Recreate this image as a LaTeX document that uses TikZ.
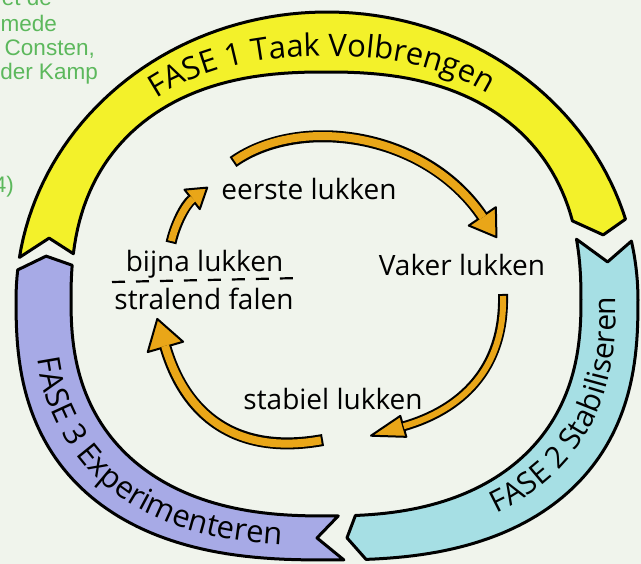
\documentclass[tikz,border=0pt]{standalone}
\usepackage{fontspec}
\setmainfont{Open Sans}
\newfontfamily\greenfont{Liberation Sans}
\usetikzlibrary{arrows.meta,decorations.text}
\definecolor{bgc}{RGB}{240,244,236}
\definecolor{yellowc}{RGB}{243,241,42}
\definecolor{cyanc}{RGB}{166,223,228}
\definecolor{purplec}{RGB}{167,170,230}
\definecolor{orangec}{RGB}{233,166,24}
\definecolor{greenc}{RGB}{92,184,92}
\newcommand\arcfontA{\fontsize{31}{36}\selectfont}
\newcommand\arcfontB{\fontsize{30}{36}\selectfont}
\newcommand\arcfontC{\fontsize{31}{36}\selectfont}
\begin{document}
\begin{tikzpicture}[x=1pt,y=1pt,
  declare function={
    spw(\cc,\pp)=\cc*pow(abs(\cc)+0.00001,\pp-1);
    oxu(\ang)=327+311*cos(\ang);
    oxl(\ang)=327+311*spw(cos(\ang),0.8);
    oyu(\ang)=264+288*sin(\ang);
    oyl(\ang)=264+260*spw(sin(\ang),0.8);
    ixx(\ang)=326+255*spw(cos(\ang),0.833);
    iyu(\ang)=264+228*spw(sin(\ang),0.833);
    iyl(\ang)=264+216*spw(sin(\ang),0.833);
    mxu(\ang)=326.5+283*spw(cos(\ang),0.909);
    mxl(\ang)=326.5+283*spw(cos(\ang),0.816);
    myu(\ang)=264+258*spw(sin(\ang),0.909);
    myl(\ang)=264+238*spw(sin(\ang),0.816);
  },
  band/.style={draw=black, line width=3pt, line join=round},
  lbl/.style={font=\fontsize{28}{32}\selectfont, inner sep=0pt, text=black},
  greentext/.style={font=\greenfont\fontsize{22.5}{26}\selectfont, text=greenc, inner sep=0pt},
  arrowbody/.style={draw=black, line width=#1},
  arrowcore/.style={draw=orangec, line width=#1},
  dashline/.style={draw=black, line width=2.2pt, dash pattern=on 13pt off 11pt}
]
\useasboundingbox (0,0) rectangle (641,564);
\fill[bgc] (0,0) rectangle (641,564);
\clip (0,0) rectangle (641,564);

% green side text
\node[greentext, anchor=base east] (g1) at (52,558) {et de};
\node[greentext, anchor=base east] (g2) at (57,532) {mede};
\node[greentext, anchor=base east] (g3) at (95,508) {Consten,};
\node[greentext, anchor=base east] (g4) at (98,484) {der Kamp};
\node[greentext, anchor=base east] (g5) at (14,371) {4)};

% FASE 1 band (yellow)
\filldraw[band, fill=yellowc]
  plot[domain=171.5:16.3, samples=80] ({oxu(\x)},{oyu(\x)})
  -- ({mxu(12.7)},{myu(12.7)})
  -- plot[domain=16.3:171.5, samples=80] ({ixx(\x)},{iyu(\x)})
  -- ({mxu(168)},{myu(168)}) -- cycle;

% FASE 2 band (cyan)
\filldraw[band, fill=cyanc]
  plot[domain=11.8:0, samples=10] ({oxu(\x)},{oyu(\x)})
  -- plot[domain=0:-85.7, samples=60] ({oxl(\x)},{oyl(\x)})
  -- ({mxl(-87.7)},{myl(-87.7)})
  -- plot[domain=-85.7:0, samples=60] ({ixx(\x)},{iyl(\x)})
  -- plot[domain=0:11.8, samples=10] ({ixx(\x)},{iyu(\x)})
  -- ({mxu(7)},{myu(7)}) -- cycle;

% FASE 3 band (purple)
\filldraw[band, fill=purplec]
  plot[domain=271.5:180, samples=60] ({oxl(\x)},{oyl(\x)})
  -- plot[domain=180:174, samples=5] ({oxu(\x)},{oyu(\x)})
  -- ({mxu(171.8)},{myu(171.8)})
  -- plot[domain=174:180, samples=5] ({ixx(\x)},{iyu(\x)})
  -- plot[domain=180:271.5, samples=60] ({ixx(\x)},{iyl(\x)})
  -- ({mxl(269.1)},{myl(269.1)}) -- cycle;

% band texts
\path[decorate, decoration={text along path, text align=center,
  text={|\arcfontA|FASE 1 Taak Volbrengen}}]
  plot[domain=170:12, samples=90] ({326.3+270*spw(cos(\x),0.88)},{264+244*spw(sin(\x),0.88)});
\path[decorate, decoration={text along path, text align=center,
  text={|\arcfontB|FASE 2 Stabiliseren}}]
  plot[domain=-86:30, samples=90] ({326.75+289*spw(cos(\x),0.81)},{264+242*spw(sin(\x),0.81)});
\path[decorate, decoration={text along path, text align=center,
  text={|\arcfontC|FASE 3 Experimenteren}}]
  plot[domain=167:283, samples=90] ({326.75+293*spw(cos(\x),0.81)},{264+246*spw(sin(\x),0.81)});

% inner labels
\node[lbl, anchor=base] (eerste) at (309,364) {eerste lukken};
\node[lbl, anchor=base] (vaker) at (462,288) {Vaker lukken};
\node[lbl, anchor=base] (bijna) at (204.5,292) {bijna lukken};
\node[lbl, anchor=base] (stralend) at (204,254) {stralend falen};
\node[lbl, anchor=base] (stabiel) at (333,154) {stabiel lukken};

\coordinate (dashL) at (112,282);
\coordinate (dashR) at (302,286);
\draw[dashline] (dashL) -- (dashR);

% orange cycle arrows
\coordinate (a1s) at (233,402); \coordinate (a1e) at (497,326);
\coordinate (a2s) at (503,270); \coordinate (a2e) at (370,128);
\coordinate (a3s) at (323,124); \coordinate (a3e) at (157,246);
\coordinate (a4s) at (171,321); \coordinate (a4e) at (208,377);

\draw[arrowbody=12pt, -{Triangle[length=28pt,width=36pt,fill=orangec,line width=2pt,round]}]
  (a1s) .. controls (300,449) and (425,432) .. (a1e);
\draw[arrowcore=8pt, shorten <=2pt, shorten >=25pt]
  (a1s) .. controls (300,449) and (425,432) .. (a1e);

\draw[arrowbody=10pt, -{Triangle[length=38pt,width=24pt,fill=orangec,line width=2pt,round]}]
  (a2s) .. controls (505,194) and (460,154) .. (a2e);
\draw[arrowcore=6pt, shorten <=2pt, shorten >=35pt]
  (a2s) .. controls (505,194) and (460,154) .. (a2e);

\draw[arrowbody=12pt, -{Triangle[length=32pt,width=40pt,fill=orangec,line width=2pt,round]}]
  (a3s) .. controls (235,108) and (185,150) .. (a3e);
\draw[arrowcore=8pt, shorten <=2pt, shorten >=29pt]
  (a3s) .. controls (235,108) and (185,150) .. (a3e);

\draw[arrowbody=11pt, -{Triangle[length=22pt,width=28pt,fill=orangec,line width=2pt,round]}]
  (a4s) .. controls (175,339) and (185,359) .. (a4e);
\draw[arrowcore=7pt, shorten <=2pt, shorten >=19pt]
  (a4s) .. controls (175,339) and (185,359) .. (a4e);
\end{tikzpicture}
\end{document}
